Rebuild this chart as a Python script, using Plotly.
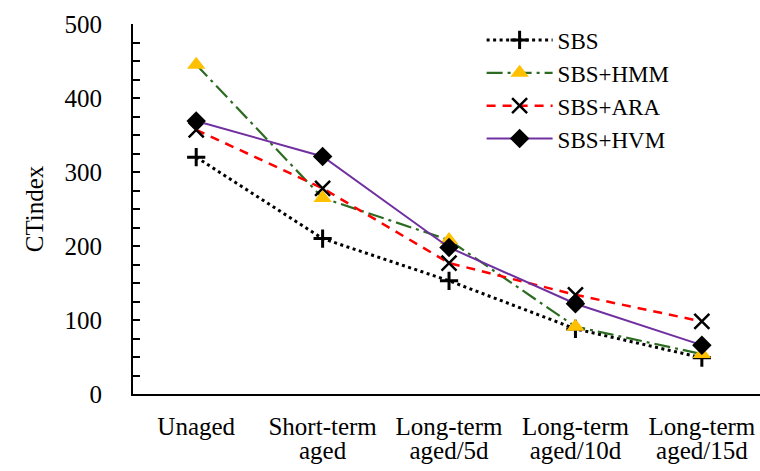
import plotly.graph_objects as go

categories = ["Unaged", "Short-term aged", "Long-term aged/5d", "Long-term aged/10d", "Long-term aged/15d"]
label_line1 = ["Unaged", "Short-term", "Long-term", "Long-term", "Long-term"]
label_line2 = ["", "aged", "aged/5d", "aged/10d", "aged/15d"]

sbs = [320, 210, 153, 88, 49]
sbs_hmm = [445, 265, 208, 91, 54]
sbs_ara = [357, 278, 177, 134, 98]
sbs_hvm = [369, 321, 198, 122, 66]

FONT = "Liberation Serif, Times New Roman, serif"

fig = go.Figure()
fig.add_trace(go.Scatter(
    x=categories, y=sbs, name="SBS", mode="lines+markers",
    line=dict(color="black", width=3, dash="3px,3.5px"),
    marker=dict(symbol="cross-thin-open", size=13, color="black", line=dict(color="black", width=3)),
))
fig.add_trace(go.Scatter(
    x=categories, y=sbs_hmm, name="SBS+HMM", mode="lines+markers",
    line=dict(color="#2E6B22", width=2.2, dash="16px,5px,3px,5px"),
    marker=dict(symbol="triangle-up", size=16, color="#FFC000"),
))
fig.add_trace(go.Scatter(
    x=categories, y=sbs_ara, name="SBS+ARA", mode="lines+markers",
    line=dict(color="#FF0000", width=2.5, dash="9px,7px"),
    marker=dict(symbol="x-thin-open", size=15, color="black", line=dict(color="black", width=2.5)),
))
fig.add_trace(go.Scatter(
    x=categories, y=sbs_hvm, name="SBS+HVM", mode="lines+markers",
    line=dict(color="#7030A0", width=2),
    marker=dict(symbol="diamond", size=15, color="black"),
))
# dummy trace for the second-line tick axis
fig.add_trace(go.Scatter(x=categories, y=[None] * len(categories), xaxis="x2",
                         showlegend=False, hoverinfo="skip", mode="lines"))

xrange = [-0.5, 4.46]
fig.update_layout(
    width=760, height=471,
    margin=dict(l=133, r=0, t=24, b=77, autoexpand=False),
    paper_bgcolor="white", plot_bgcolor="white",
    font=dict(family=FONT, size=25, color="black"),
    showlegend=True,
    legend=dict(x=0.556, y=1.015, xanchor="left", yanchor="top",
                font=dict(family=FONT, size=23, color="black"),
                bgcolor="rgba(0,0,0,0)", itemwidth=66, tracegroupgap=0),
    xaxis=dict(
        type="category", range=xrange, tickmode="array", automargin=False,
        tickvals=categories, ticktext=label_line1,
        showline=True, linecolor="black", linewidth=2, ticks="",
        showgrid=False, zeroline=False, ticklabelstandoff=9,
        tickfont=dict(family=FONT, size=25, color="black"),
    ),
    xaxis2=dict(
        type="category", range=xrange, overlaying="x", matches="x", anchor="y", side="bottom",
        tickmode="array", tickvals=categories, ticktext=label_line2, automargin=False,
        showline=False, ticks="", showgrid=False, zeroline=False, ticklabelstandoff=39,
        tickfont=dict(family=FONT, size=25, color="black"),
    ),
    yaxis=dict(
        range=[0, 500], dtick=100, tick0=0, automargin=False,
        showline=True, linecolor="black", linewidth=2,
        ticks="inside", ticklen=7, tickwidth=2, tickcolor="black",
        minor=dict(dtick=25, ticks="inside", ticklen=7, tickwidth=2, tickcolor="black"),
        showgrid=False, zeroline=False, ticklabelstandoff=24,
        tickfont=dict(family=FONT, size=25, color="black"),
        title=dict(text="CTindex", font=dict(family=FONT, size=25, color="black"), standoff=14),
    ),
)

fig.write_html("out.html", config={"displayModeBar": False},
               post_script="document.body.style.margin='0';document.body.style.padding='0';")
